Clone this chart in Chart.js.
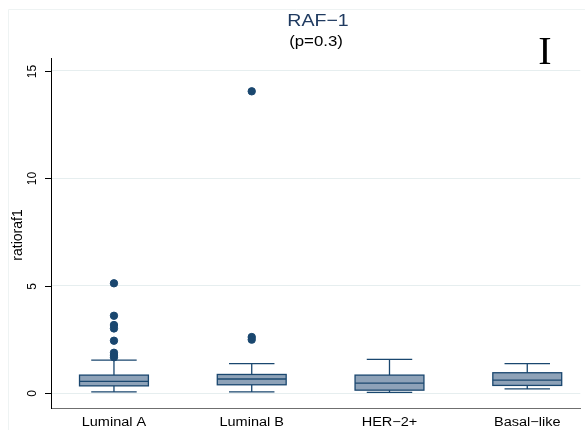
<!DOCTYPE html>
<html>
<head>
<meta charset="utf-8">
<script src="https://cdn.jsdelivr.net/npm/chart.js@4"></script>
<style>
  html, body { margin: 0; padding: 0; background: #fff; }
  #wrap { width: 585px; height: 430px; }
</style>
</head>
<body>
<div id="wrap"><canvas id="c" width="585" height="430"></canvas></div>
<script>
// Box plot summary per subtype
const categories = ['Luminal A', 'Luminal B', 'HER\u22122+', 'Basal\u2212like'];
const lowerWhisker = [0.07, 0.07, 0.05, 0.21];
const q1 = [0.35, 0.40, 0.15, 0.37];
const median = [0.56, 0.67, 0.48, 0.62];
const q3 = [0.85, 0.88, 0.85, 0.96];
const upperWhisker = [1.55, 1.38, 1.58, 1.38];
const outliersLumA = [5.12, 3.61, 3.18, 3.02, 2.45, 1.89, 1.78, 1.68];
const outliersLumB = [14.05, 2.62, 2.50];
const outliersHer2 = [];
const outliersBasal = [];
const yTicks = [0, 5, 10, 15];

const navy = '#1a476f';
const boxFill = '#8ea2b8';
const font = '"Liberation Sans", Arial, sans-serif';

// scatter points for the outliers
const outlierPoints = [];
[outliersLumA, outliersLumB, outliersHer2, outliersBasal].forEach((list, i) => {
  list.forEach(v => outlierPoints.push({ x: i + 1, y: v }));
});

// text drawn slightly wider, the source graph is stretched sideways
function wideText(ctx, text, x, y, sx) {
  ctx.save();
  ctx.translate(x, y);
  ctx.scale(sx, 1);
  ctx.fillText(text, 0, 0);
  ctx.restore();
}

// draws boxes, whiskers, titles and the axis labels
const boxPlugin = {
  id: 'boxes',
  beforeDraw(chart) {
    const ctx = chart.ctx;
    ctx.save();
    ctx.strokeStyle = '#eef3f3';
    ctx.lineWidth = 1;
    ctx.beginPath();
    ctx.moveTo(8.5, 430);
    ctx.lineTo(8.5, 9.5);
    ctx.lineTo(585, 9.5);
    ctx.stroke();
    ctx.restore();
  },
  beforeDatasetsDraw(chart) {
    const ctx = chart.ctx;
    const xs = chart.scales.x, ys = chart.scales.y;
    const unit = xs.getPixelForValue(2) - xs.getPixelForValue(1);
    const halfBox = unit * 0.25, halfCap = unit * 0.165;
    ctx.save();
    ctx.strokeStyle = navy;
    ctx.lineWidth = 1.3;
    categories.forEach((c, i) => {
      const cx = xs.getPixelForValue(i + 1);
      const yLo = ys.getPixelForValue(lowerWhisker[i]);
      const yQ1 = ys.getPixelForValue(q1[i]);
      const yMed = ys.getPixelForValue(median[i]);
      const yQ3 = ys.getPixelForValue(q3[i]);
      const yHi = ys.getPixelForValue(upperWhisker[i]);
      // whiskers
      ctx.beginPath();
      ctx.moveTo(cx, yQ3); ctx.lineTo(cx, yHi);
      ctx.moveTo(cx - halfCap, yHi); ctx.lineTo(cx + halfCap, yHi);
      ctx.moveTo(cx, yQ1); ctx.lineTo(cx, yLo);
      ctx.moveTo(cx - halfCap, yLo); ctx.lineTo(cx + halfCap, yLo);
      ctx.stroke();
      // box
      ctx.fillStyle = boxFill;
      ctx.fillRect(cx - halfBox, yQ3, halfBox * 2, yQ1 - yQ3);
      ctx.strokeRect(cx - halfBox, yQ3, halfBox * 2, yQ1 - yQ3);
      ctx.beginPath();
      ctx.moveTo(cx - halfBox, yMed); ctx.lineTo(cx + halfBox, yMed);
      ctx.stroke();
    });
    ctx.restore();
  },
  afterDraw(chart) {
    const ctx = chart.ctx;
    const xs = chart.scales.x, ys = chart.scales.y;
    const left = chart.chartArea.left;
    ctx.save();
    // y ticks, labels rotated like Stata
    ctx.strokeStyle = '#000';
    ctx.lineWidth = 1;
    ctx.fillStyle = '#000';
    ctx.font = '12px ' + font;
    ctx.textAlign = 'center';
    ctx.textBaseline = 'middle';
    yTicks.forEach(t => {
      const y = Math.round(ys.getPixelForValue(t)) + 0.5;
      ctx.beginPath();
      ctx.moveTo(left - 6, y); ctx.lineTo(left, y);
      ctx.stroke();
      ctx.save();
      ctx.translate(33, y);
      ctx.rotate(-Math.PI / 2);
      ctx.fillText(String(t), 0, 0);
      ctx.restore();
    });
    // y axis title
    ctx.save();
    ctx.font = '14px ' + font;
    ctx.translate(18, 235);
    ctx.rotate(-Math.PI / 2);
    ctx.fillText('ratioraf1', 0, 0);
    ctx.restore();
    // x category labels
    ctx.textBaseline = 'alphabetic';
    ctx.font = '12.5px ' + font;
    categories.forEach((c, i) => {
      wideText(ctx, c, xs.getPixelForValue(i + 1), 425.5, 1.16);
    });
    // titles
    ctx.fillStyle = '#1f3a60';
    ctx.font = '17px ' + font;
    wideText(ctx, 'RAF\u22121', 318, 26, 1.15);
    ctx.fillStyle = '#000';
    ctx.font = '14px ' + font;
    wideText(ctx, '(p=0.3)', 316, 45.5, 1.2);
    ctx.font = '40px "Liberation Serif", "Times New Roman", serif';
    ctx.fillText('I', 545, 64);
    ctx.restore();
  }
};

new Chart(document.getElementById('c'), {
  type: 'scatter',
  data: {
    datasets: [{
      data: outlierPoints,
      backgroundColor: navy,
      borderColor: navy,
      pointRadius: 3.7,
      pointHoverRadius: 3.7
    }]
  },
  options: {
    responsive: false,
    animation: false,
    layout: { padding: { top: 58, right: 0, left: 0, bottom: 0 } },
    plugins: { legend: { display: false }, tooltip: { enabled: false } },
    scales: {
      x: {
        type: 'linear',
        min: 0.543,
        max: 4.385,
        afterBuildTicks: s => { s.ticks = categories.map((c, i) => ({ value: i + 1 })); },
        afterFit: s => { s.height = 22; },
        grid: { display: false, drawTicks: false },
        border: { display: true, color: '#6f6f6f', width: 1 },
        ticks: { display: false }
      },
      y: {
        min: -0.68,
        max: 15.6,
        afterBuildTicks: s => { s.ticks = yTicks.map(v => ({ value: v })); },
        afterFit: s => { s.width = 51; },
        grid: { color: '#e6eeef', lineWidth: 1, drawTicks: false },
        border: { display: true, color: '#000', width: 1 },
        ticks: { display: false }
      }
    }
  },
  plugins: [boxPlugin]
});
</script>
</body>
</html>
